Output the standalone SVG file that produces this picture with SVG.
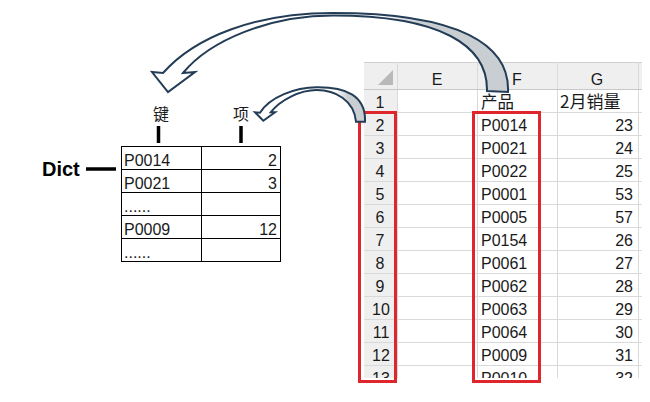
<svg xmlns="http://www.w3.org/2000/svg" width="650" height="402" viewBox="0 0 650 402">
<style>
  .t { font-family: "Liberation Sans", "Noto Sans CJK SC", sans-serif; font-size: 16px; fill: #1a1a1a; }
  .cjk { font-family: "Noto Sans CJK SC", "Liberation Sans", sans-serif; font-size: 16px; fill: #1a1a1a; }
  .r { text-anchor: end; }
  .m { text-anchor: middle; }
  .grid { stroke: #d9d9d9; stroke-width: 1; fill: none; }
  .hdr { fill: #efefef; }
  .tbl { stroke: #000; stroke-width: 1; fill: none; }
  .tick { stroke: #000; stroke-width: 3.5; }
  .red { stroke: #e0262d; stroke-width: 3; fill: none; }
  .arrow { stroke: #243d57; stroke-width: 2; stroke-linejoin: miter; }
</style>
<defs>
  <linearGradient id="gBig" gradientUnits="userSpaceOnUse" x1="380" y1="0" x2="420" y2="0">
    <stop offset="0" stop-color="#ffffff"/>
    <stop offset="1" stop-color="#c9ced3"/>
  </linearGradient>
  <linearGradient id="gSmall" gradientUnits="userSpaceOnUse" x1="335" y1="0" x2="348" y2="0">
    <stop offset="0" stop-color="#ffffff"/>
    <stop offset="1" stop-color="#c9ced3"/>
  </linearGradient>
  <clipPath id="sheetClip"><rect x="364" y="62" width="278" height="316"/></clipPath>
</defs>
<rect width="650" height="402" fill="#ffffff"/>

<g id="sheet" clip-path="url(#sheetClip)">
  <rect class="hdr" x="364" y="62" width="278" height="27"/>
  <rect class="hdr" x="364" y="89" width="33" height="290"/>
  <line x1="364" y1="62.5" x2="642" y2="62.5" stroke="#d0d0d0"/>
  <polygon points="378,85 393,70 393,85" fill="#b9b9b9"/>
  <g class="grid">
    <line x1="397.5" y1="62" x2="397.5" y2="378"/>
    <line x1="477.5" y1="62" x2="477.5" y2="378"/>
    <line x1="557.5" y1="62" x2="557.5" y2="378"/>
    <line x1="638.5" y1="62" x2="638.5" y2="378"/>
    <line x1="364" y1="89.5" x2="642" y2="89.5" stroke="#c8c8c8"/>
    <line x1="364" y1="112.5" x2="642" y2="112.5"/>
    <line x1="364" y1="135.5" x2="642" y2="135.5"/>
    <line x1="364" y1="158.5" x2="642" y2="158.5"/>
    <line x1="364" y1="181.5" x2="642" y2="181.5"/>
    <line x1="364" y1="204.5" x2="642" y2="204.5"/>
    <line x1="364" y1="227.5" x2="642" y2="227.5"/>
    <line x1="364" y1="250.5" x2="642" y2="250.5"/>
    <line x1="364" y1="273.5" x2="642" y2="273.5"/>
    <line x1="364" y1="296.5" x2="642" y2="296.5"/>
    <line x1="364" y1="319.5" x2="642" y2="319.5"/>
    <line x1="364" y1="342.5" x2="642" y2="342.5"/>
    <line x1="364" y1="365.5" x2="642" y2="365.5"/>
  </g>
  <text class="t m" x="437" y="85">E</text>
  <text class="t m" x="517" y="85">F</text>
  <text class="t m" x="597" y="85">G</text>
  <g class="t m">
    <text x="380" y="108">1</text>
    <text x="380" y="131">2</text>
    <text x="380" y="154">3</text>
    <text x="380" y="177">4</text>
    <text x="380" y="200">5</text>
    <text x="380" y="223">6</text>
    <text x="380" y="246">7</text>
    <text x="380" y="269">8</text>
    <text x="380" y="292">9</text>
    <text x="381" y="315">10</text>
    <text x="381" y="338">11</text>
    <text x="381" y="361">12</text>
    <text x="381" y="384">13</text>
  </g>
  <text class="cjk" x="481" y="108" style="font-size:16.5px">产品</text>
  <text class="cjk" x="560" y="108" style="font-size:17px">2月销量</text>
  <g class="t">
    <text x="481" y="131">P0014</text>
    <text x="481" y="154">P0021</text>
    <text x="481" y="177">P0022</text>
    <text x="481" y="200">P0001</text>
    <text x="481" y="223">P0005</text>
    <text x="481" y="246">P0154</text>
    <text x="481" y="269">P0061</text>
    <text x="481" y="292">P0062</text>
    <text x="481" y="315">P0063</text>
    <text x="481" y="338">P0064</text>
    <text x="481" y="361">P0009</text>
    <text x="481" y="384">P0010</text>
  </g>
  <g class="t r">
    <text x="633" y="131">23</text>
    <text x="633" y="154">24</text>
    <text x="633" y="177">25</text>
    <text x="633" y="200">53</text>
    <text x="633" y="223">57</text>
    <text x="633" y="246">26</text>
    <text x="633" y="269">27</text>
    <text x="633" y="292">28</text>
    <text x="633" y="315">29</text>
    <text x="633" y="338">30</text>
    <text x="633" y="361">31</text>
    <text x="633" y="384">32</text>
  </g>
</g>

<g id="highlight-rows">
  <rect class="red" x="359.5" y="112.5" width="36" height="269"/>
</g>
<g id="highlight-products">
  <rect class="red" x="473.5" y="112.5" width="66" height="269"/>
</g>

<g id="dict-label">
  <text x="42" y="176" style="font-family:'Liberation Sans',sans-serif;font-size:20px;font-weight:bold;fill:#000">Dict</text>
</g>

<g id="dict-table">
  <rect class="tbl" x="121.5" y="146.5" width="159" height="115"/>
  <line class="tbl" x1="201.5" y1="146.5" x2="201.5" y2="261.5"/>
  <line class="tbl" x1="121.5" y1="169.5" x2="280.5" y2="169.5"/>
  <line class="tbl" x1="121.5" y1="192.5" x2="280.5" y2="192.5"/>
  <line class="tbl" x1="121.5" y1="215.5" x2="280.5" y2="215.5"/>
  <line class="tbl" x1="121.5" y1="238.5" x2="280.5" y2="238.5"/>
  <g class="t">
    <text x="124" y="166">P0014</text>
    <text x="124" y="189">P0021</text>
    <text x="124" y="212">......</text>
    <text x="124" y="235">P0009</text>
    <text x="124" y="258">......</text>
  </g>
  <g class="t r">
    <text x="277" y="166">2</text>
    <text x="277" y="189">3</text>
    <text x="277" y="235">12</text>
  </g>
</g>

<g id="key-label">
  <text class="cjk m" x="161" y="120">键</text>
</g>
<g id="item-label">
  <text class="cjk m" x="241" y="120">项</text>
</g>

<g id="connectors">
  <line class="tick" x1="86" y1="169" x2="116" y2="169"/>
  <line class="tick" x1="158.5" y1="126" x2="158.5" y2="143"/>
  <line class="tick" x1="241" y1="126" x2="241" y2="143"/>
  <path class="arrow" fill="url(#gBig)" d="M508,92 C510,45 460,13 333,13 C255,13 195,37 163,73 L152,72 L168,92 L195,72 L183,73 C210,40 270,15.5 333,15.5 C440,15.5 488,45 487,91 Z"/>
  <path class="arrow" fill="url(#gSmall)" d="M365,121.7 C366,95 345,87 316.7,87.3 C295,87.5 270,97 260,112.7 L255,112.3 L263.3,120.7 L275,112.3 L270.7,112.3 C280,100 300,90 316.7,90 C335,90 354,100 356,121.7 Z"/>
</g>
</svg>
